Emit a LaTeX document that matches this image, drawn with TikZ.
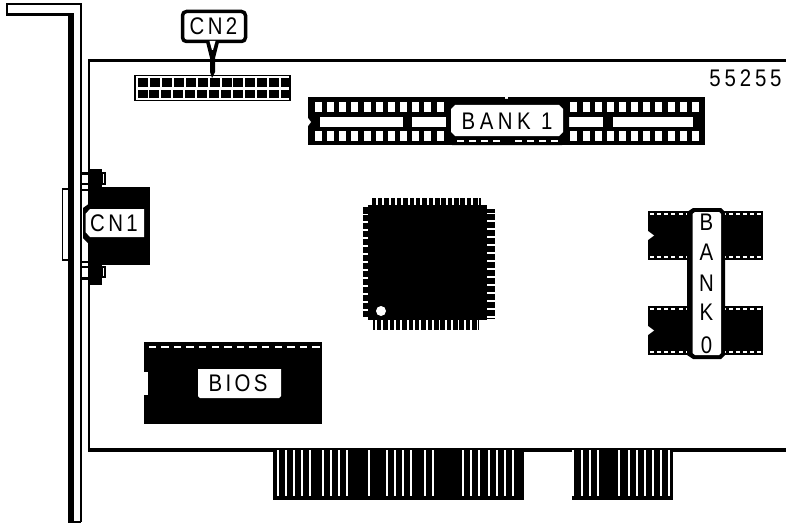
\documentclass[tikz,border=0pt]{standalone}
\usepackage{fontspec}
\newfontfamily\lab[LetterSpace=14,FakeStretch=0.85]{Liberation Sans}
\newfontfamily\labw[LetterSpace=19,FakeStretch=0.85]{Liberation Sans}
\newfontfamily\labm[LetterSpace=16,FakeStretch=0.85]{Liberation Sans}
\tikzset{
  blk/.style={fill=black,draw=none},
  wht/.style={fill=white,draw=none},
  txt/.style={font=\lab\fontsize{24}{24}\selectfont,inner sep=0pt,text=black,anchor=center},
  bubble/.style={draw=black,line width=3.5pt,fill=white,rounded corners=4pt}
}
\begin{document}
\begin{tikzpicture}[x=1pt,y=-1pt]
\useasboundingbox[fill=white] (0,0) rectangle (786,524);
% bracket
\draw[line width=2.2pt,line join=miter] (81,522) -- (81,4) -- (7,4) -- (7,15);
\fill[blk] (6,13) rectangle (74,16.5);
\fill[blk] (68,13) rectangle (74,522);
\draw[line width=1.5pt] (68,522) -- (81,522);
% board
\fill[blk] (88,59) rectangle (786,62.5);
\fill[blk] (88,59) rectangle (90,451);
\fill[blk] (88,448) rectangle (273,452);
\fill[blk] (524,448) rectangle (572,452);
\fill[blk] (673,448) rectangle (786,452);
% edge connector fingers
\fill[blk] (273,448) rectangle (524,500);
\fill[blk] (572,448) rectangle (673,500);
\foreach \s in {83,107,131,155,179,220,244,268,292,358,412,436,460,484,526,550,640,664,688,718,742,766,790}
  \fill[wht] ({250+\s/3-0.9},449.5) rectangle ({250+\s/3+0.9},496);
\foreach \s in {970,995,1020,1043,1108,1138,1162,1186,1210,1234,1258}
  \fill[wht] ({250+\s/3-0.9},449.5) rectangle ({250+\s/3+0.9},496);
% CN2 header
\draw[line width=1.2pt,fill=white] (135,75.5) rectangle (290,100.5);
\foreach \i in {0,...,12}{
  \fill[blk] ({138+11.93*\i},78.5) rectangle ({148+11.93*\i},87.5);
  \fill[blk] ({137.5+11.93*\i},90) rectangle ({147.5+11.93*\i},98.5);
}
% BANK 1 strip
\fill[blk] (308,97) rectangle (705,145);
\foreach \i in {0,...,31}{
  \fill[wht] ({315+12.16*\i},102) rectangle ({322+12.16*\i},112);
  \fill[wht] ({315+12.16*\i},131) rectangle ({322+12.16*\i},141);
}
\fill[wht] (320,117) rectangle (403,127);
\fill[wht] (412,117) rectangle (450,127);
\fill[wht] (567,117) rectangle (603,127);
\fill[wht] (613,117) rectangle (693,127);
\fill[wht] (308,118) -- (311,122) -- (308,126) -- cycle;
\fill[wht] (505,97) rectangle (508,100);
\fill[wht] (506,142) rectangle (509,145);
\fill[blk] (452,99) -- (562,99) -- (569,105) -- (569,138) -- (562,145) -- (452,145) -- (446,138) -- (446,105) -- cycle;
\foreach \x in {457,469,481,493,515,527,539,551}
  \fill[wht] (\x,140) rectangle ({\x+7},141.5);
\fill[wht] (455,105) -- (559,105) -- (563,109) -- (563,132) -- (559,136) -- (455,136) -- (451,132) -- (451,109) -- cycle;
\node[txt,font=\labw\fontsize{24}{24}\selectfont] (b1) at (507,121) {BANK 1};
% serial number
\node[txt,font=\labm\fontsize{24}{24}\selectfont] (num) at (745.5,78) {55255};
% CN1 connector
\draw[line width=1.2pt] (68,189) -- (62.5,189) -- (62.5,260) -- (68,260);
\fill[blk] (88,169) rectangle (102,285);
\fill[blk] (88,187) rectangle (150,265);
\draw[line width=1.2pt,fill=white] (102,173) rectangle (105,184);
\draw[line width=1.2pt,fill=white] (102,267) rectangle (105,277);
\fill[blk] (82,172) rectangle (90,174.5);
\fill[blk] (82,183) rectangle (90,185);
\fill[blk] (82,189) rectangle (90,191);
\fill[blk] (82,261) rectangle (90,263);
\fill[blk] (82,266) rectangle (90,268);
\fill[blk] (82,277) rectangle (90,279.5);
\fill[blk] (90,203) -- (83,208) -- (83,238) -- (90,245) -- cycle;
\fill[wht] (85.5,214) -- (90,209) -- (144,209) -- (144,237) -- (90,237) -- (85.5,232) -- cycle;
\node[txt] (cn1) at (114,223.5) {CN1};
% main chip
\fill[blk] (368,205) rectangle (487,320);
\fill[blk] (372,198) rectangle (481,206);
\fill[blk] (373,319) rectangle (479,330);
\fill[blk] (363,207) rectangle (369,318);
\fill[blk] (486,209) rectangle (495,319);
\foreach \i in {0,...,16}{
  \fill[wht] ({376+6.35*\i},197) rectangle ({377.8+6.35*\i},205);
  \fill[wht] ({375+6.35*\i},320) rectangle ({376.8+6.35*\i},331);
}
\foreach \i in {0,...,13}{
  \fill[wht] (362,{213.5+7.95*\i}) rectangle (368,{215.3+7.95*\i});
  \fill[wht] (487,{212.5+7.95*\i}) rectangle (496,{214.3+7.95*\i});
}
\fill[wht] (381,311) circle (5);
% BANK 0 chips
\foreach \yy in {211,306}{
  \fill[blk] (648,\yy) rectangle (763,{\yy+49});
  \fill[wht] (648,{\yy+20}) -- (654,{\yy+24.5}) -- (648,{\yy+29}) -- cycle;
  \foreach \i in {0,...,15}{
    \fill[wht] ({650+7.15*\i},{\yy+2}) rectangle ({654+7.15*\i},{\yy+4});
    \fill[wht] ({650+7.15*\i},{\yy+45}) rectangle ({654+7.15*\i},{\yy+47});
  }
}
\fill[blk] (693,208) -- (721,208) -- (725,212) -- (725,355) -- (721,359) -- (693,359) -- (687,355) -- (687,212) -- cycle;
\fill[wht] (695,212) -- (719,212) -- (721,214) -- (721,353) -- (719,355) -- (695,355) -- (692.5,353) -- (692.5,214) -- cycle;
\node[txt] (b0a) at (706.5,222) {B};
\node[txt] (b0b) at (706.5,252) {A};
\node[txt] (b0c) at (706.5,283) {N};
\node[txt] (b0d) at (706.5,312) {K};
\node[txt] (b0e) at (706.5,345) {0};
% BIOS chip
\fill[blk] (144,342) rectangle (322,424);
\fill[wht] (144,372) rectangle (148,395);
\foreach \i in {0,...,13}
  \fill[wht] ({148.5+12.6*\i},345.5) rectangle ({156+12.6*\i},347.5);
\fill[wht] (198,369) -- (281,369) -- (281,396) -- (279,398) -- (200,398) -- (198,396) -- cycle;
\node[txt] (bios) at (238,383.5) {BIOS};
% CN2 label and leader
\coordinate (cn2end) at (212,78);
\node[bubble,minimum width=63pt,minimum height=30pt,inner sep=0pt] (cn2box) at (214,26.5) {};
\fill[blk] (206,42) -- (219,42) -- (215,58) -- (215,72) -- (212,78) -- (210,72) -- (210,58) -- cycle;
\fill[wht] (209.5,41) -- (215.5,41) -- (213,50) -- (212,50) -- cycle;
\node[txt] (cn2) at (213.5,26) {CN2};
\end{tikzpicture}
\end{document}
